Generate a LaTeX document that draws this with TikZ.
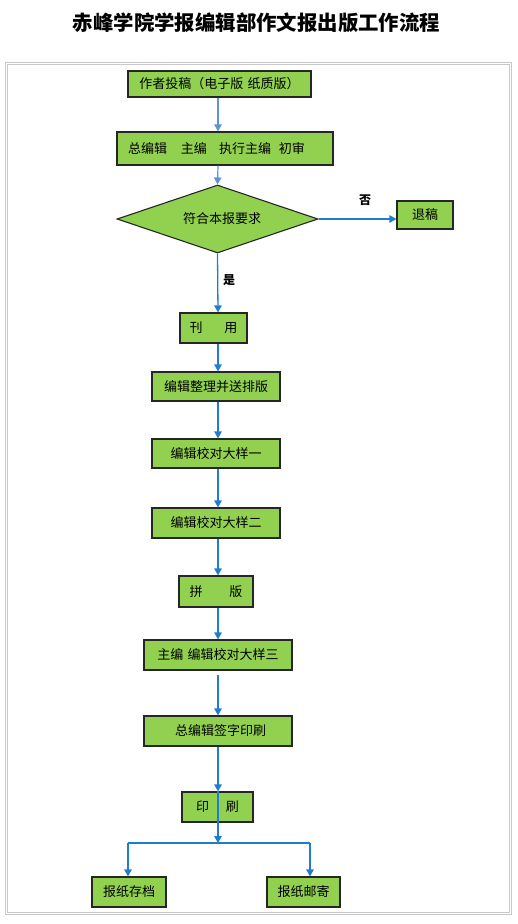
\documentclass[tikz,border=0pt]{standalone}
\usepackage{fontspec}
\setmainfont{Noto Sans CJK SC}
\usetikzlibrary{shapes.geometric,arrows.meta}
\definecolor{boxgreen}{HTML}{92D050}
\definecolor{boxedge}{HTML}{262626}
\definecolor{arrowblue}{HTML}{1F7DD0}
\definecolor{lightblue}{HTML}{5A96D6}
\definecolor{framegray}{HTML}{C8C8C8}
\tikzset{
  stepbox/.style={draw=boxedge, fill=boxgreen, line width=1.2pt, inner sep=0pt,
    font=\fontsize{13}{15}\selectfont},
  decisionbox/.style={diamond, draw=boxedge, fill=boxgreen, line width=1.1pt, inner sep=0pt,
    aspect=2.96, minimum width=201pt, minimum height=68pt, font=\fontsize{13}{15}\selectfont},
  conn/.style={draw=arrowblue, line width=1.3pt, -{Triangle[length=7pt,width=7.5pt]}},
  connlight/.style={draw=lightblue, line width=1.2pt, -{Triangle[length=7pt,width=7.5pt]}},
  plainconn/.style={draw=arrowblue, line width=1.3pt},
  branchlabel/.style={font=\bfseries\fontsize{12}{14}\selectfont},
}
\begin{document}
\begin{tikzpicture}[x=1pt,y=-1pt]
\useasboundingbox (0,0) rectangle (517,924);
% frame
\draw[framegray, line width=1pt] (5,62) rectangle (511,914);
\draw[framegray, line width=1pt] (7,64) rectangle (509,912);
% title
\node (title) at (256.5,23) {\bfseries\fontsize{20.4}{23}\selectfont 赤峰学院学报编辑部作文报出版工作流程};
\coordinate (spine) at (218,0);
% nodes
\node[stepbox, minimum width=183pt, minimum height=26pt] (b1) at (219.5,84) {作者投稿（电子版\,\,纸质版）};
\node[stepbox, text width=194pt, inner xsep=11pt, minimum height=33pt, align=left] (b2) at (225,148.5)
  {总编辑\hspace{14pt}主编\hspace{12pt}执行主编\hspace{8pt}初审};
\node[decisionbox] (d) at (217.5,219) {\hspace{9pt}符合本报要求};
\node[stepbox, minimum width=56pt, minimum height=28pt] (reject) at (425,215) {退稿};
\node[stepbox, minimum width=67pt, minimum height=30pt] (b3) at (213.5,328) {刊\hspace{22pt}用};
\node[stepbox, minimum width=128pt, minimum height=29pt] (b4) at (216,386.5) {编辑整理并送排版};
\node[stepbox, minimum width=128pt, minimum height=29pt] (b5) at (216,453.5) {编辑校对大样一};
\node[stepbox, minimum width=128pt, minimum height=30pt] (b6) at (216,523) {编辑校对大样二};
\node[stepbox, minimum width=74pt, minimum height=31pt] (b7) at (216,591.5) {拼\hspace{27pt}版};
\node[stepbox, minimum width=148pt, minimum height=30pt] (b8) at (218,655) {主编\,\,编辑校对大样三};
\node[stepbox, minimum width=148pt, minimum height=30pt] (b9) at (218,731) {\hspace{5pt}总编辑签字印刷};
\node[stepbox, minimum width=71pt, minimum height=30pt] (b10) at (217.5,807) {印\hspace{17pt}刷\hspace{6pt}};
\node[stepbox, minimum width=74pt, minimum height=30pt] (b11) at (129,892) {报纸存档};
\node[stepbox, minimum width=73pt, minimum height=30pt] (b12) at (303.5,892) {报纸邮寄};
% labels
\node[branchlabel] (no) at (365,200) {否};
\node[branchlabel] (yes) at (229,280) {是};
% connectors
\coordinate (split) at (218,843);
\coordinate (rightdrop) at (310,843);
\coordinate (leftdrop) at (128,843);
\draw[connlight] (b1.south -| spine) -- (b2.north -| spine);
\draw[connlight] (b2.south -| spine) -- (d.north);
\draw[conn] (d.east) -- (reject.west |- d.east);
\draw[conn] (d.south) -- (b3.north -| spine);
\draw[conn] (b3.south -| spine) -- (b4.north -| spine);
\draw[conn] (b4.south -| spine) -- (b5.north -| spine);
\draw[conn] (b5.south -| spine) -- (b6.north -| spine);
\draw[conn] (b6.south -| spine) -- (b7.north -| spine);
\draw[conn] (b7.south -| spine) -- (b8.north -| spine);
\draw[conn, shorten <=4pt] (b8.south -| spine) -- (b9.north -| spine);
\draw[conn] (b9.south -| spine) -- (b10.north -| spine);
\draw[conn] (b10.north -| spine) -- (split);
\draw[plainconn] (leftdrop) -- (rightdrop);
\draw[conn] (leftdrop) -- (b11.north -| leftdrop);
\draw[conn] (rightdrop) -- (b12.north -| rightdrop);
\end{tikzpicture}
\end{document}
